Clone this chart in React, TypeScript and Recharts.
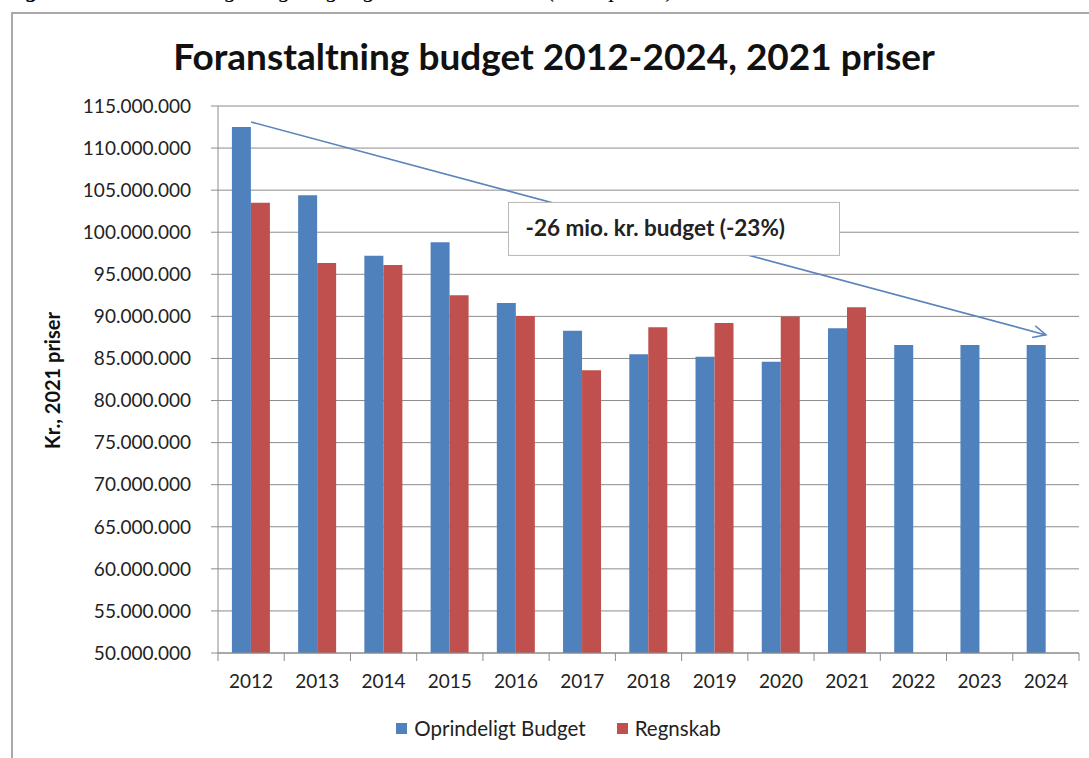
import { Bar, BarChart, CartesianGrid, Legend, ReferenceLine, XAxis, YAxis } from 'recharts'

const years = ['2012', '2013', '2014', '2015', '2016', '2017', '2018', '2019', '2020', '2021', '2022', '2023', '2024']
const oprindeligtBudget = [
  112500000, 104400000, 97200000, 98800000, 91600000, 88300000, 85500000, 85200000, 84600000, 88600000,
  86600000, 86600000, 86600000,
]
const regnskab = [
  103500000, 96350000, 96100000, 92500000, 90050000, 83600000, 88700000, 89200000, 90000000, 91100000,
  null, null, null,
]
const yTicks = [
  50000000, 55000000, 60000000, 65000000, 70000000, 75000000, 80000000, 85000000, 90000000, 95000000,
  100000000, 105000000, 110000000, 115000000,
]
const trendFrom = { year: '2012', value: 113100000 }
const trendTo = { year: '2024', value: 87800000 }
const trendText = '-26 mio. kr. budget (-23%)'

const BLUE = '#4f81bd'
const RED = '#c0504d'
const GRID = '#8c8c8c'
const FONT = 'Lato, "Open Sans", sans-serif'

const data = years.map((year, i) => ({
  year,
  budget: oprindeligtBudget[i],
  regnskab: regnskab[i],
}))

const fmt = (v: number) => String(v).replace(/\B(?=(\d{3})+(?!\d))/g, '.')

function YearTick(props: any) {
  const { x, y, payload, index, width, visibleTicksCount } = props
  const half = width / visibleTicksCount / 2
  const last = index === visibleTicksCount - 1
  return (
    <g>
      <line x1={x - half} x2={x - half} y1={y} y2={y + 8} stroke={GRID} />
      {last && <line x1={x + half} x2={x + half} y1={y} y2={y + 8} stroke={GRID} />}
      <text x={x} y={y + 35} textAnchor="middle" fill="#222" fontSize={19} fontFamily={FONT}>
        {payload.value}
      </text>
    </g>
  )
}

function TrendArrow(props: any) {
  const { x1, y1, x2, y2 } = props
  const ang = Math.atan2(y2 - y1, x2 - x1)
  const head = 14
  const spread = 0.45
  const mx = (x1 + x2) / 2
  const my = (y1 + y2) / 2
  return (
    <g>
      <line x1={x1} y1={y1} x2={x2} y2={y2} stroke="#5a84bb" strokeWidth={1.6} />
      <polyline
        points={`${x2 - head * Math.cos(ang - spread)},${y2 - head * Math.sin(ang - spread)} ${x2},${y2} ${
          x2 - head * Math.cos(ang + spread)
        },${y2 - head * Math.sin(ang + spread)}`}
        fill="none"
        stroke="#5a84bb"
        strokeWidth={1.6}
      />
      <rect x={mx - 140} y={my - 26} width={331} height={53} fill="#fff" stroke="#b8b8b8" />
      <text x={mx - 123} y={my + 8} fill="#222" fontSize={22.5} fontWeight={700} fontFamily={FONT}>
        {trendText}
      </text>
    </g>
  )
}

function LegendBox(props: any) {
  const items = props.payload || []
  return (
    <div
      style={{
        height: 60,
        display: 'flex',
        alignItems: 'center',
        justifyContent: 'center',
        paddingLeft: 38,
        fontFamily: FONT,
        fontSize: 20.5,
        color: '#222',
      }}
    >
      {items.map((it: any, i: number) => (
        <div key={i} style={{ display: 'flex', alignItems: 'center', marginRight: i === 0 ? 31 : 0 }}>
          <span style={{ width: 11, height: 11, background: it.color, marginRight: 7, display: 'inline-block' }} />
          <span>{it.value}</span>
        </div>
      ))}
    </div>
  )
}

export default function App() {
  return (
    <div
      style={{
        position: 'fixed',
        left: 0,
        top: 0,
        width: 1089,
        height: 758,
        background: '#fff',
        overflow: 'hidden',
        fontFamily: FONT,
      }}
    >
      <div
        style={{
          position: 'absolute',
          left: 4,
          top: -26,
          fontFamily: '"Liberation Serif", serif',
          fontStyle: 'italic',
          fontSize: 24,
          whiteSpace: 'nowrap',
          lineHeight: '30px',
        }}
      >
        <b>Figur 1:</b> Foranstaltning budget og regnskab 2012-2024 (2021 priser).
      </div>
      <div
        style={{
          position: 'absolute',
          left: 11,
          top: 12,
          width: 1100,
          height: 800,
          border: '2px solid #a9a9a9',
          boxSizing: 'border-box',
        }}
      />
      <div
        style={{
          position: 'absolute',
          left: 50,
          width: 1008,
          top: 30,
          textAlign: 'center',
          fontSize: 37,
          fontWeight: 700,
          color: '#111',
          lineHeight: '52px',
        }}
      >
        Foranstaltning budget 2012-2024, 2021 priser
      </div>
      <div style={{ position: 'absolute', left: 0, top: 0 }}>
        <BarChart
          width={1089}
          height={758}
          data={data}
          margin={{ top: 106, right: 10, left: 0, bottom: 0 }}
          barCategoryGap="21%"
          barGap={0}
        >
          <CartesianGrid vertical={false} stroke={GRID} ticks={yTicks} />
          <XAxis
            dataKey="year"
            height={45}
            tickLine={false}
            tickSize={0}
            tickMargin={0}
            axisLine={{ stroke: GRID }}
            tick={<YearTick />}
            interval={0}
          />
          <YAxis
            width={218}
            domain={[50000000, 115000000]}
            ticks={yTicks}
            allowDataOverflow
            interval={0}
            tickSize={7}
            tickMargin={20}
            tickLine={{ stroke: GRID }}
            axisLine={{ stroke: GRID }}
            tickFormatter={fmt}
            tick={{ fill: '#222', fontSize: 19, fontFamily: FONT }}
            label={{
              content: (p: any) => {
                const vb = p.viewBox || { x: 0, y: 106, height: 547 }
                const cx = 52
                const cy = vb.y + vb.height / 2 + 1
                return (
                  <text
                    x={cx}
                    y={cy}
                    transform={`rotate(-90 ${cx} ${cy})`}
                    textAnchor="middle"
                    dominantBaseline="central"
                    fontSize={20}
                    fontWeight={700}
                    fontFamily={FONT}
                    fill="#111"
                  >
                    Kr., 2021 priser
                  </text>
                )
              },
            }}
          />
          <Legend verticalAlign="bottom" content={<LegendBox />} />
          <Bar dataKey="budget" name="Oprindeligt Budget" fill={BLUE} isAnimationActive={false} />
          <Bar dataKey="regnskab" name="Regnskab" fill={RED} isAnimationActive={false} />
          <ReferenceLine
            segment={[
              { x: trendFrom.year, y: trendFrom.value },
              { x: trendTo.year, y: trendTo.value },
            ]}
            shape={<TrendArrow />}
          />
        </BarChart>
      </div>
    </div>
  )
}
